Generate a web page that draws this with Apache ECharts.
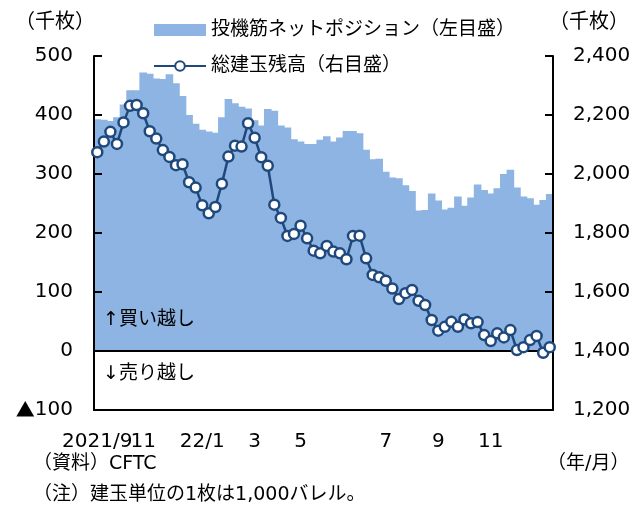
<!DOCTYPE html>
<html>
<head>
<meta charset="utf-8">
<style>
  html, body { margin: 0; padding: 0; background: #fff; }
  #main { width: 637px; height: 512px; }
</style>
</head>
<body>
<div id="main"></div>
<script src="https://cdn.jsdelivr.net/npm/echarts/dist/echarts.min.js"></script>
<script type="text/javascript">
    // 投機筋ネットポジション（千枚, 左目盛）
    var netPos = [
        393, 392, 390, 396, 418, 442, 442, 472, 470, 462,
        461, 469, 454, 432, 400, 385, 375, 372, 370, 396,
        427, 420, 414, 411, 391, 382, 410, 407, 382, 379,
        359, 355, 351, 351, 358, 364, 355, 362, 373, 373,
        369, 341, 325, 326, 304, 294, 293, 281, 271, 238,
        239, 267, 255, 240, 243, 262, 246, 260, 282, 273,
        267, 276, 300, 307, 277, 262, 259, 248, 256, 266
    ];
    // 総建玉残高（千枚, 右目盛）
    var openInt = [
        2074, 2110, 2143, 2102, 2175, 2231, 2234, 2206, 2145, 2120,
        2081, 2058, 2030, 2033, 1972, 1954, 1894, 1867, 1888, 1967,
        2059, 2096, 2093, 2172, 2123, 2057, 2028, 1896, 1851, 1790,
        1797, 1825, 1782, 1740, 1731, 1756, 1737, 1731, 1711, 1790,
        1791, 1714, 1658, 1650, 1638, 1612, 1576, 1596, 1607, 1570,
        1556, 1505, 1469, 1482, 1499, 1482, 1507, 1494, 1498, 1454,
        1434, 1460, 1446, 1471, 1403, 1413, 1437, 1451, 1394, 1413
    ];
    // x軸ラベル（位置と文字）
    var tickIdx = [0, 7, 16, 24, 31, 44, 52, 60];
    var tickText = ['2021/9', '11', '22/1', '3', '5', '7', '9', '11'];

    // 週次の日付（カテゴリ）
    var weeks = [];
    var d = new Date(2021, 7, 31);
    for (var i = 0; i < netPos.length; i++) {
        weeks.push(d.getFullYear() + '/' + (d.getMonth() + 1) + '/' + d.getDate());
        d.setDate(d.getDate() + 7);
    }

    var NUM_FONT = "'DejaVu Sans', 'Noto Sans CJK JP'";
    var JP_FONT = "'DejaVu Sans', 'Noto Sans CJK JP'";
    var BAR_COLOR = '#8db4e2';
    var LINE_COLOR = '#1f497d';

    var myChart = echarts.init(document.getElementById('main'));

    var option = {
        animation: false,
        backgroundColor: '#fff',
        grid: { left: 94, right: 84, top: 56, bottom: 102 },
        legend: {
            orient: 'vertical',
            left: 148,
            top: 13,
            itemWidth: 52,
            itemHeight: 12,
            itemGap: 12,
            textStyle: { fontFamily: JP_FONT, fontSize: 19, color: '#000', lineHeight: 24 },
            data: [
                { name: '投機筋ネットポジション（左目盛）', icon: 'rect' },
                { name: '総建玉残高（右目盛）' }
            ]
        },
        xAxis: {
            type: 'category',
            data: weeks,
            boundaryGap: true,
            z: 3,
            axisLine: { onZero: false, lineStyle: { color: '#000', width: 2 } },
            axisTick: { show: false },
            axisLabel: {
                interval: 0,
                margin: 22,
                color: '#000',
                fontFamily: NUM_FONT,
                fontSize: 20,
                formatter: function (v, idx) {
                    var k = tickIdx.indexOf(idx);
                    return k >= 0 ? tickText[k] : '';
                }
            },
            splitLine: { show: false }
        },
        yAxis: [
            {
                type: 'value',
                min: -100,
                max: 500,
                interval: 100,
                z: 3,
                axisLine: { show: true, lineStyle: { color: '#000', width: 2 } },
                axisTick: { show: true, inside: true, length: 8, lineStyle: { color: '#000', width: 2 } },
                splitLine: { show: false },
                axisLabel: {
                    margin: 21,
                    color: '#000',
                    fontFamily: NUM_FONT,
                    fontSize: 20,
                    formatter: function (v) {
                        return v < 0 ? '{t|▲}' + (-v) : '' + v;
                    },
                    rich: {
                        t: { fontFamily: "'Noto Sans CJK JP'", fontSize: 19, color: '#000' }
                    }
                }
            },
            {
                type: 'value',
                min: 1200,
                max: 2400,
                interval: 200,
                position: 'right',
                z: 3,
                axisLine: { show: true, lineStyle: { color: '#000', width: 2 } },
                axisTick: { show: true, inside: true, length: 8, lineStyle: { color: '#000', width: 2 } },
                splitLine: { show: false },
                axisLabel: {
                    margin: 20,
                    color: '#000',
                    fontFamily: NUM_FONT,
                    fontSize: 20,
                    formatter: function (v) {
                        return String(v).replace(/\B(?=(\d{3})+(?!\d))/g, ',');
                    }
                }
            }
        ],
        series: [
            {
                name: '投機筋ネットポジション（左目盛）',
                type: 'bar',
                yAxisIndex: 0,
                barWidth: 7.6,
                itemStyle: { color: BAR_COLOR },
                data: netPos,
                markLine: {
                    silent: true,
                    symbol: 'none',
                    label: { show: false },
                    lineStyle: { color: '#000', width: 2, type: 'solid' },
                    data: [{ yAxis: 0 }]
                }
            },
            {
                name: '総建玉残高（右目盛）',
                type: 'line',
                yAxisIndex: 1,
                symbol: 'circle',
                symbolSize: 10,
                lineStyle: { color: LINE_COLOR, width: 2.5 },
                itemStyle: { color: '#fff', borderColor: LINE_COLOR, borderWidth: 2.5 },
                data: openInt,
                z: 5
            }
        ],
        graphic: [
            { type: 'text', z: 100, left: 15, top: 13, style: { text: '（千枚）', fontFamily: JP_FONT, fontSize: 20, fill: '#000' } },
            { type: 'text', z: 100, left: 549, top: 13, style: { text: '（千枚）', fontFamily: JP_FONT, fontSize: 20, fill: '#000' } },
            { type: 'text', z: 100, left: 103, top: 311, style: { text: '↑買い越し', fontFamily: JP_FONT, fontSize: 19, fill: '#000' } },
            { type: 'text', z: 100, left: 103, top: 365, style: { text: '↓売り越し', fontFamily: JP_FONT, fontSize: 19, fill: '#000' } },
            { type: 'text', z: 100, left: 33, top: 455, style: { text: '（資料）CFTC', fontFamily: JP_FONT, fontSize: 19, fill: '#000' } },
            { type: 'text', z: 100, left: 547, top: 455, style: { text: '（年/月）', fontFamily: JP_FONT, fontSize: 19, fill: '#000' } },
            { type: 'text', z: 100, left: 33, top: 486, style: { text: '（注）建玉単位の1枚は1,000バレル。', fontFamily: JP_FONT, fontSize: 19, fill: '#000' } }
        ]
    };

    myChart.setOption(option);
</script>
</body>
</html>
